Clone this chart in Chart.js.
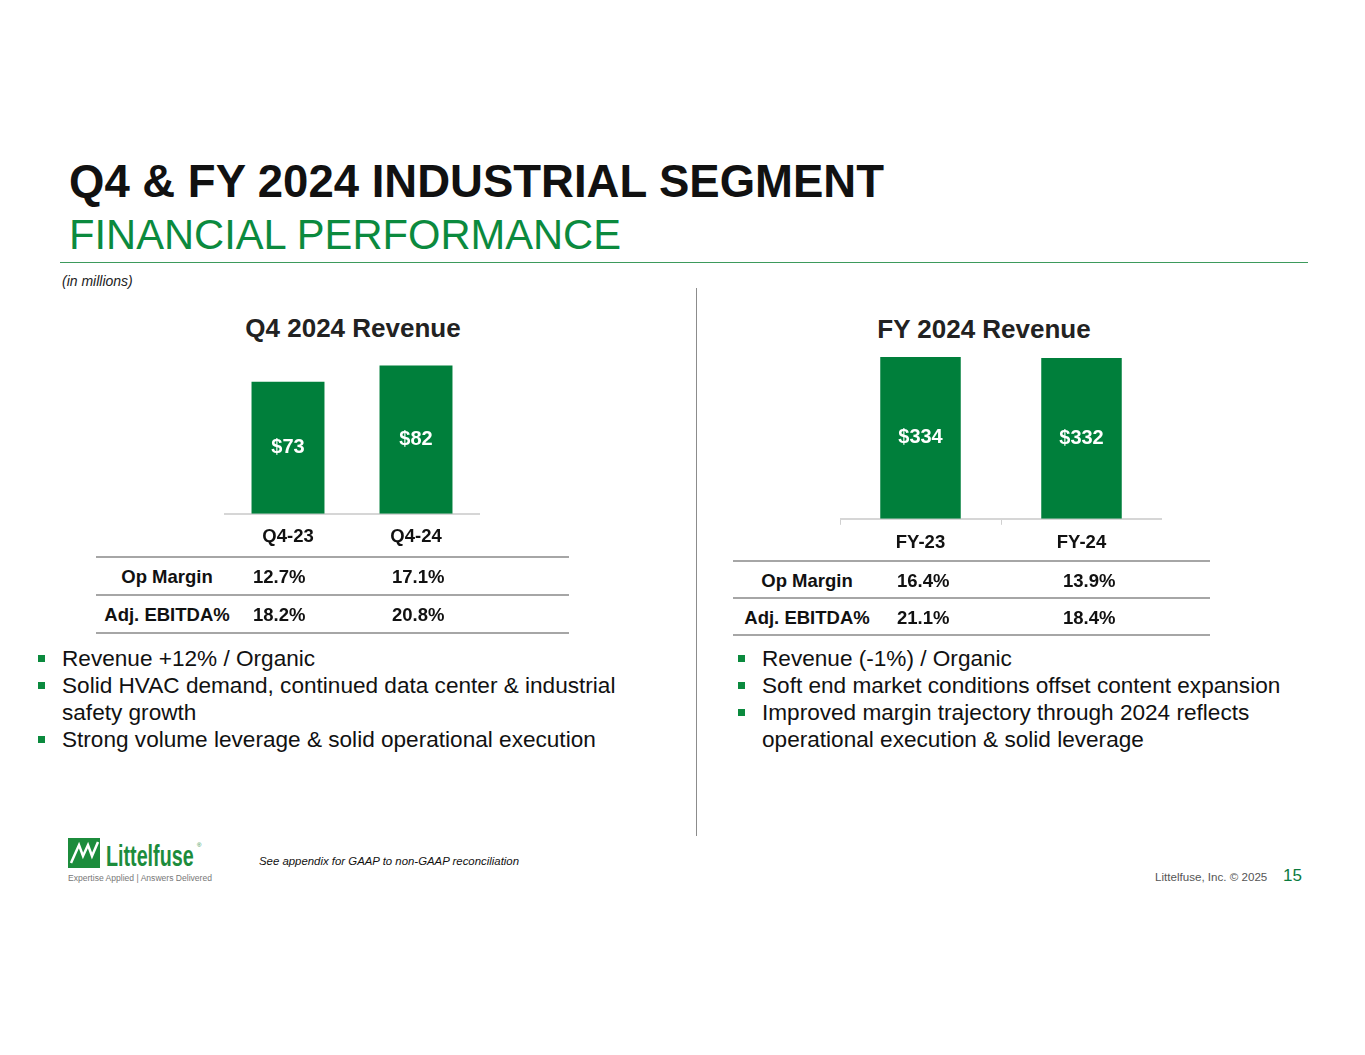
<!DOCTYPE html>
<html>
<head>
<meta charset="utf-8">
<script src="https://cdn.jsdelivr.net/npm/chart.js@4.4.1/dist/chart.umd.min.js"></script>
<style>
  body { margin: 0; background: #fff; font-family: "Liberation Sans", Arial, sans-serif; }
  #page { position: relative; width: 1365px; height: 1055px; overflow: hidden; }
  .abs { position: absolute; white-space: nowrap; }
  .title { left: 69px; top: 156px; font-size: 45.5px; font-weight: bold; color: #111; }
  .subtitle { left: 69px; top: 211px; font-size: 41.7px; color: #0b8a3e; }
  .rule { left: 60px; top: 262px; width: 1248px; height: 1px; background: #3d9a5c; }
  .units { left: 62px; top: 273px; font-size: 14px; font-style: italic; color: #222; }
  .divider { left: 696px; top: 288px; width: 1px; height: 548px; background: #8c8c8c; }
  .ctitle { font-size: 26px; font-weight: bold; color: #222; transform: translateX(-50%); }
  .tline { height: 2px; background: #a6a6a6; }
  .tcell { font-size: 18.5px; font-weight: bold; color: #111; }
  ul.bul { position: absolute; margin: 0; padding: 0; list-style: none; font-size: 22.6px; color: #111; line-height: 27px; }
  ul.bul li { position: relative; padding-left: 24px; }
  ul.bul li::before { content: ""; position: absolute; left: 0; top: 10px; width: 7px; height: 7px; background: #0b8a3e; }
  .note { left: 259px; top: 855px; font-size: 11.4px; font-style: italic; color: #111; }
  .copy { left: 1155px; top: 870px; font-size: 11.6px; color: #555; }
  .pnum { left: 1283px; top: 866px; font-size: 17px; color: #0b7a3e; }
  canvas { position: absolute; }
</style>
</head>
<body>
<div id="page">
  <div class="abs title">Q4 &amp; FY 2024 INDUSTRIAL SEGMENT</div>
  <div class="abs subtitle">FINANCIAL PERFORMANCE</div>
  <div class="abs rule"></div>
  <div class="abs units">(in millions)</div>
  <div class="abs divider"></div>

  <div class="abs ctitle" style="left:353px; top:313px;">Q4 2024 Revenue</div>
  <div class="abs ctitle" style="left:984px; top:314px;">FY 2024 Revenue</div>

  <canvas id="q4chart" width="256" height="227" style="left:224px; top:333px;"></canvas>
  <canvas id="fychart" width="322" height="236" style="left:840px; top:325px;"></canvas>

  <div id="q4table"></div>
  <div id="fytable"></div>

  <ul class="bul" style="left:38px; top:645px;">
    <li>Revenue +12% / Organic</li>
    <li>Solid HVAC demand, continued data center &amp; industrial<br>safety growth</li>
    <li>Strong volume leverage &amp; solid operational execution</li>
  </ul>
  <ul class="bul" style="left:738px; top:645px;">
    <li>Revenue (-1%) / Organic</li>
    <li>Soft end market conditions offset content expansion</li>
    <li>Improved margin trajectory through 2024 reflects<br>operational execution &amp; solid leverage</li>
  </ul>

  <!-- logo -->
  <svg class="abs" style="left:66px; top:836px;" width="200" height="50">
    <rect x="2" y="2" width="32" height="30" fill="#1c8c3c"/>
    <path d="M5 27 L13 9 L17 20 L22 9 L26 20 L32 6" stroke="#fff" stroke-width="2.5" fill="none"/>
    <text transform="translate(40,30) scale(0.68,1)" font-family="Liberation Sans, Arial" font-weight="bold" font-size="29" fill="#1c8c3c">Littelfuse</text>
    <text x="131" y="11" font-family="Liberation Sans, Arial" font-size="6" fill="#1c8c3c">®</text>
    <text x="2" y="45" textLength="144" lengthAdjust="spacingAndGlyphs" font-family="Liberation Sans, Arial" font-size="8.5" fill="#777">Expertise Applied | Answers Delivered</text>
  </svg>
  <div class="abs note">See appendix for GAAP to non-GAAP reconciliation</div>
  <div class="abs copy">Littelfuse, Inc. © 2025</div>
  <div class="abs pnum">15</div>
</div>

<script>
// Q4 revenue
const q4Labels = ['Q4-23', 'Q4-24'];
const q4Revenue = [73, 82];
// FY revenue
const fyLabels = ['FY-23', 'FY-24'];
const fyRevenue = [334, 332];

// table rows
const metricNames = ['Op Margin', 'Adj. EBITDA%'];
const q4Metrics = [['12.7%', '17.1%'], ['18.2%', '20.8%']];
const fyMetrics = [['16.4%', '13.9%'], ['21.1%', '18.4%']];

const GREEN = '#007f3b';
const FONT = '"Liberation Sans", Arial, sans-serif';

// bar value labels in white, middle of each bar
const barLabels = {
    id: 'barLabels',
    afterDatasetsDraw(chart) {
        const ctx = chart.ctx;
        const meta = chart.getDatasetMeta(0);
        ctx.save();
        ctx.fillStyle = '#fff';
        ctx.font = 'bold 20px ' + FONT;
        ctx.textAlign = 'center';
        ctx.textBaseline = 'middle';
        meta.data.forEach((bar, i) => {
            const v = chart.data.datasets[0].data[i];
            ctx.fillText('$' + v, bar.x, (bar.y + bar.base) / 2);
        });
        ctx.restore();
    }
};

function makeChart(id, labels, values, yMax, barPct, ticks, tickPad) {
    return new Chart(document.getElementById(id), {
        type: 'bar',
        data: {
            labels: labels,
            datasets: [{
                data: values,
                backgroundColor: GREEN,
                borderWidth: 0,
                barPercentage: barPct,
                categoryPercentage: 1
            }]
        },
        options: {
            responsive: false,
            animation: false,
            layout: { padding: 0 },
            plugins: { legend: { display: false }, tooltip: { enabled: false } },
            scales: {
                y: { display: false, min: 0, max: yMax },
                x: {
                    grid: {
                        display: ticks,
                        drawOnChartArea: false,
                        drawTicks: ticks,
                        tickLength: 6,
                        color: '#d0d0d0'
                    },
                    border: { display: true, color: '#d6d6d6', width: 2 },
                    ticks: {
                        color: '#111',
                        padding: tickPad,
                        font: { family: FONT, size: 18.5, weight: 'bold' }
                    }
                }
            }
        },
        plugins: [barLabels]
    });
}

makeChart('q4chart', q4Labels, q4Revenue, 100, 0.57, false, 12);
makeChart('fychart', fyLabels, fyRevenue, 400, 0.5, true, 7);

// metric tables
function buildTable(id, left, width, top, rowH, nameCenter, col1, col2, rows) {
    const box = document.getElementById(id);
    let html = '';
    html += `<div class="abs tline" style="left:${left}px; top:${top}px; width:${width}px;"></div>`;
    metricNames.forEach((name, r) => {
        const y = top + r * rowH;
        html += `<div class="abs tcell" style="left:${nameCenter - 100}px; width:200px; text-align:center; top:${y + 10}px;">${name}</div>`;
        html += `<div class="abs tcell" style="left:${col1}px; top:${y + 10}px;">${rows[r][0]}</div>`;
        html += `<div class="abs tcell" style="left:${col2}px; top:${y + 10}px;">${rows[r][1]}</div>`;
        html += `<div class="abs tline" style="left:${left}px; top:${y + rowH}px; width:${width}px;"></div>`;
    });
    box.innerHTML = html;
}
buildTable('q4table', 96, 473, 556, 38, 167, 253, 392, q4Metrics);
buildTable('fytable', 733, 477, 560, 37, 807, 897, 1063, fyMetrics);
</script>
</body>
</html>
